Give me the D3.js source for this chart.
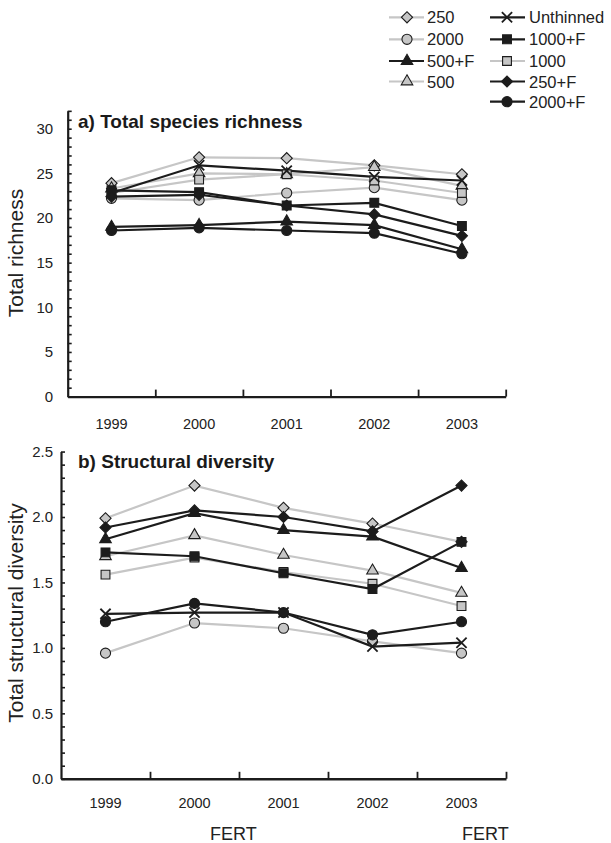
<!DOCTYPE html>
<html><head><meta charset="utf-8">
<script src="https://cdn.jsdelivr.net/npm/d3@7"></script>
<style>
body{margin:0;background:#fff;}
svg{display:block;font-family:"Liberation Sans",Arial,sans-serif;}
</style></head>
<body><svg id="c" width="611" height="843"></svg>
<script>
const years = ["1999","2000","2001","2002","2003"];
const seriesNames = ["250","2000","500+F","500","Unthinned","1000+F","1000","250+F","2000+F"];
// Panel a: total species richness
const richness250   = [23.9, 26.8, 26.7, 25.9, 24.9];
const richness2000  = [22.2, 22.0, 22.8, 23.4, 22.0];
const richness500F  = [19.0, 19.2, 19.6, 19.2, 16.5];
const richness500   = [23.3, 25.0, 24.9, 25.7, 23.6];
const richnessUnth  = [22.8, 25.9, 25.3, 24.6, 24.2];
const richness1000F = [23.1, 22.9, 21.4, 21.7, 19.1];
const richness1000  = [22.8, 24.3, 24.9, 24.2, 22.8];
const richness250F  = [22.4, 22.6, 21.4, 20.4, 18.0];
const richness2000F = [18.6, 18.9, 18.6, 18.3, 16.0];
// Panel b: total structural diversity
const diversity250   = [1.99, 2.24, 2.07, 1.95, 1.81];
const diversity2000  = [0.96, 1.19, 1.15, 1.05, 0.96];
const diversity500F  = [1.83, 2.03, 1.90, 1.85, 1.61];
const diversity500   = [1.70, 1.86, 1.71, 1.59, 1.42];
const diversityUnth  = [1.26, 1.27, 1.27, 1.01, 1.04];
const diversity1000F = [1.73, 1.70, 1.57, 1.45, 1.81];
const diversity1000  = [1.56, 1.69, 1.58, 1.49, 1.32];
const diversity250F  = [1.92, 2.05, 2.00, 1.89, 2.24];
const diversity2000F = [1.20, 1.34, 1.27, 1.10, 1.20];
const richnessTicks = d3.range(0, 33, 1);
const richnessLabels = [0,5,10,15,20,25,30];
const diversityTicks = d3.range(0, 26, 1).map(d => d/10);
const diversityLabels = [0,0.5,1.0,1.5,2.0,2.5];

const GRAY = "#c6c6c6", BLACK = "#1c1c1c";
const style = {
  "250":      {shape:"diamond",  fill:GRAY,  line:GRAY},
  "2000":     {shape:"circle",   fill:GRAY,  line:GRAY},
  "500+F":    {shape:"triangle", fill:BLACK, line:BLACK},
  "500":      {shape:"triangle", fill:GRAY,  line:GRAY},
  "Unthinned":{shape:"x",        fill:"none",line:BLACK},
  "1000+F":   {shape:"square",   fill:BLACK, line:BLACK},
  "1000":     {shape:"square",   fill:GRAY,  line:GRAY},
  "250+F":    {shape:"diamond",  fill:BLACK, line:BLACK},
  "2000+F":   {shape:"circle",   fill:BLACK, line:BLACK}
};
const richnessData = {"250":richness250,"2000":richness2000,"500+F":richness500F,"500":richness500,"Unthinned":richnessUnth,"1000+F":richness1000F,"1000":richness1000,"250+F":richness250F,"2000+F":richness2000F};
const diversityData = {"250":diversity250,"2000":diversity2000,"500+F":diversity500F,"500":diversity500,"Unthinned":diversityUnth,"1000+F":diversity1000F,"1000":diversity1000,"250+F":diversity250F,"2000+F":diversity2000F};

const svg = d3.select("#c");
const symPath = {
  circle: d3.symbol().type(d3.symbolCircle).size(80)(),
  square: d3.symbol().type(d3.symbolSquare).size(78)(),
  diamond: d3.symbol().type(d3.symbolSquare).size(62)(),
  triangle: d3.symbol().type(d3.symbolTriangle).size(58)(),
  x: d3.symbol().type(d3.symbolX).size(70)()
};
function marker(g, name, x, y){
  const s = style[name];
  const p = g.append("path").attr("d", symPath[s.shape])
    .attr("transform", `translate(${x},${y})` + (s.shape==="diamond" ? " rotate(45)" : ""));
  if (s.shape === "x") p.attr("fill","none").attr("stroke",BLACK).attr("stroke-width",1.8);
  else p.attr("fill", s.fill).attr("stroke", BLACK).attr("stroke-width", 1.1);
}

function panel(opt){
  const g = svg.append("g");
  const x = d3.scaleBand().domain(years).range([opt.x0, opt.x1]);
  const y = d3.scaleLinear().domain(opt.domain).range([opt.y0, opt.y1]);
  const order = seriesNames.filter(n => style[n].line === GRAY).concat(seriesNames.filter(n => style[n].line === BLACK));
  const line = d3.line().x((d,i) => x(years[i]) + x.bandwidth()/2).y(d => y(d));
  order.forEach(n => {
    g.append("path").datum(opt.data[n]).attr("d", line)
      .attr("fill","none").attr("stroke", style[n].line).attr("stroke-width", 2.2);
  });
  order.forEach(n => {
    opt.data[n].forEach((v,i) => marker(g, n, x(years[i]) + x.bandwidth()/2, y(v)));
  });
  // y axis
  const ya = g.append("g").attr("transform", `translate(${opt.x0},0)`)
    .call(d3.axisLeft(y).tickValues(opt.ticks).tickSizeInner(-4).tickSizeOuter(0).tickPadding(opt.pad)
      .tickFormat(d => opt.labels.some(l => Math.abs(l-d) < 1e-9) ? opt.fmt(d) : ""));
  ya.select(".domain").attr("stroke", BLACK).attr("stroke-width", 2.2);
  ya.selectAll(".tick line").attr("stroke", BLACK).attr("stroke-width", 1.6);
  ya.selectAll("text").attr("font-size", 15).attr("fill", "#222").attr("font-family","'Liberation Sans',Arial,sans-serif");
  // x axis: boundary ticks
  const xb = d3.scaleLinear().domain([0,years.length]).range([opt.x0, opt.x1]);
  const xa = g.append("g").attr("transform", `translate(0,${opt.y0})`)
    .call(d3.axisBottom(xb).tickValues(d3.range(1, years.length+1)).tickSizeInner(-7).tickSizeOuter(0).tickFormat(""));
  xa.select(".domain").attr("stroke", BLACK).attr("stroke-width", 2.4);
  xa.selectAll(".tick line").attr("stroke", BLACK).attr("stroke-width", 1.8);
  // year labels
  const xl = g.append("g").attr("transform", `translate(0,${opt.y0})`)
    .call(d3.axisBottom(x).tickSize(0).tickPadding(0));
  xl.select(".domain").remove();
  xl.selectAll("text").attr("dy", 0).attr("y", opt.labelY).attr("font-size", 14.5).attr("fill","#222")
    .attr("font-family","'Liberation Sans',Arial,sans-serif");
  // title
  g.append("text").attr("x", opt.titleX).attr("y", opt.titleY).attr("font-size", 19).attr("font-weight","bold")
    .attr("fill","#1a1a1a").text(opt.title);
  // y title
  g.append("text").attr("transform", `translate(${23},${opt.ytitleY}) rotate(-90)`).attr("text-anchor","middle")
    .attr("font-size", 21).attr("fill","#222").text(opt.ytitle);
}

panel({x0:67.7, x1:505.7, y0:396.6, y1:396.6-32*8.93, domain:[0,32], data:richnessData,
  ticks:richnessTicks, labels:richnessLabels, fmt:d3.format("d"), pad:14.5, labelY:32.5,
  title:"a) Total species richness", titleX:78, titleY:128, ytitle:"Total richness", ytitleY:253});
panel({x0:61, x1:506, y0:778.8, y1:778.8-2.5*130.9, domain:[0,2.5], data:diversityData,
  ticks:diversityTicks, labels:diversityLabels, fmt:d3.format(".1f"), pad:8, labelY:29.5,
  title:"b) Structural diversity", titleX:78, titleY:468, ytitle:"Total structural diversity", ytitleY:613});

// FERT labels
svg.append("text").attr("x", 210).attr("y", 840).attr("font-size", 18).attr("fill","#222").text("FERT");
svg.append("text").attr("x", 462).attr("y", 840).attr("font-size", 18).attr("fill","#222").text("FERT");

// legend
const legCols = [["250","2000","500+F","500"],["Unthinned","1000+F","1000","250+F","2000+F"]];
const rowY = [17.3, 39.3, 61, 81.5, 101.7];
const colX = [{l0:389,l1:424,m:407,t:427},{l0:490,l1:525,m:507,t:529}];
const leg = svg.append("g");
legCols.forEach((col,ci) => col.forEach((n,ri) => {
  const c = colX[ci], yy = rowY[ri];
  leg.append("line").attr("x1",c.l0).attr("x2",c.l1).attr("y1",yy).attr("y2",yy)
    .attr("stroke", style[n].line).attr("stroke-width", 2.2);
  marker(leg, n, c.m, yy);
  leg.append("text").attr("x", c.t).attr("y", yy+6).attr("font-size", 16.5).attr("fill","#222").text(n);
}));
</script></body></html>
